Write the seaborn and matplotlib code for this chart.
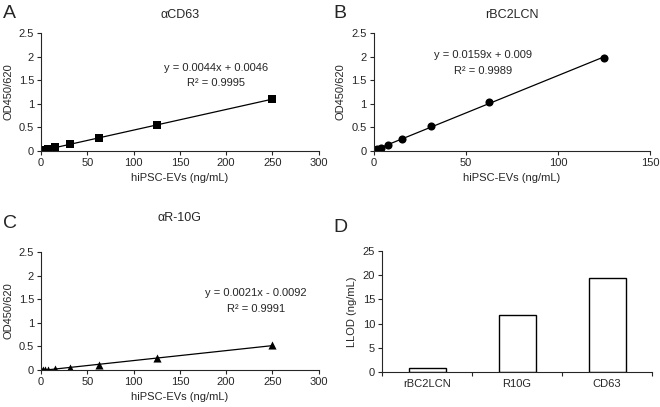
import numpy as np
import pandas as pd
import matplotlib
matplotlib.use("Agg")
import matplotlib.pyplot as plt
from matplotlib.ticker import FuncFormatter, FixedLocator
import seaborn as sns

# standard curves (hiPSC-EVs ng/mL vs OD450/620)
cd63_x = [0, 1.95, 3.9, 7.8, 15.6, 31.25, 62.5, 125, 250]
cd63_y = [0.0, 0.01, 0.02, 0.04, 0.08, 0.15, 0.27, 0.55, 1.10]

bc2_x = [0, 0.49, 0.98, 1.95, 3.9, 7.8, 15.6, 31.25, 62.5, 125]
bc2_y = [0.0, 0.01, 0.02, 0.04, 0.07, 0.13, 0.26, 0.53, 1.04, 1.97]

r10g_x = [0, 1.95, 3.9, 7.8, 15.6, 31.25, 62.5, 125, 250]
r10g_y = [0.0, 0.0, 0.0, 0.0, 0.01, 0.05, 0.11, 0.25, 0.52]

# lower limit of detection
llod_names = ["rBC2LCN", "R10G", "CD63"]
llod_vals = [0.9, 11.7, 19.4]

sns.set_style("ticks")
plt.rcParams['font.family'] = ['Liberation Sans', 'DejaVu Sans']
plt.rcParams['font.size'] = 8

fig = plt.figure(figsize=(6.6, 4.07), dpi=100)

fmt = FuncFormatter(lambda v, p: '{:g}'.format(v))

def curve(rect, x, y, marker, title, xmax, xstep, eq, r2, txt_x, eq_y, r2_y, title_pad, msize):
	'''Scatter + linear trendline panel'''
	ax = fig.add_axes(rect)
	df = pd.DataFrame({'x': x, 'y': y})
	sns.regplot(data=df, x='x', y='y', ci=None, marker=marker, color='black',
		scatter_kws={'s': msize, 'alpha': 1, 'linewidths': 0}, line_kws={'lw': 0.9}, ax=ax)
	ax.set_xlim(0, xmax)
	ax.set_ylim(0, 2.5)
	ax.set_xticks(np.arange(0, xmax + 1, xstep))
	ax.set_yticks(np.arange(0, 2.51, 0.5))
	ax.yaxis.set_major_formatter(fmt)
	ax.set_xlabel('hiPSC-EVs (ng/mL)', fontsize=8, labelpad=4)
	ax.set_ylabel('OD450/620', fontsize=8, labelpad=4)
	ax.set_title(title, fontsize=9, pad=title_pad)
	ax.text(txt_x, eq_y, eq, ha='center', va='center', fontsize=8)
	ax.text(txt_x, r2_y, r2, ha='center', va='center', fontsize=8)
	ax.tick_params(length=3, width=0.8, labelsize=8, pad=2)
	for s in ['left', 'bottom']:
		ax.spines[s].set_linewidth(0.8)
	sns.despine(ax=ax)
	return ax

curve([0.062, 0.629, 0.421, 0.290], cd63_x, cd63_y, 's', 'αCD63', 300, 50,
	'y = 0.0044x + 0.0046', 'R² = 0.9995', 189, 1.75, 1.43, 11, 30)
curve([0.566, 0.629, 0.419, 0.290], bc2_x, bc2_y, 'o', 'rBC2LCN', 150, 50,
	'y = 0.0159x + 0.009', 'R² = 0.9989', 59.5, 2.03, 1.69, 11, 34)
curve([0.062, 0.091, 0.421, 0.290], r10g_x, r10g_y, '^', 'αR-10G', 300, 50,
	'y = 0.0021x - 0.0092', 'R² = 0.9991', 232, 1.63, 1.29, 22, 34)

# LLOD bar chart
axd = fig.add_axes([0.579, 0.086, 0.409, 0.297])
sns.barplot(x=llod_names, y=llod_vals, color='white', edgecolor='black',
	linewidth=1, width=0.41, ax=axd)
axd.set_xlim(-0.5, 2.5)
axd.set_ylim(0, 25)
axd.set_yticks(np.arange(0, 26, 5))
axd.set_ylabel('LLOD (ng/mL)', fontsize=8, labelpad=4)
axd.set_xlabel('')
axd.xaxis.set_minor_locator(FixedLocator([-0.5, 0.5, 1.5, 2.5]))
axd.tick_params(axis='x', which='major', length=0, labelsize=8, pad=5)
axd.tick_params(axis='x', which='minor', length=3, width=0.8)
axd.tick_params(axis='y', length=3, width=0.8, labelsize=8, pad=2)
for s in ['left', 'bottom']:
	axd.spines[s].set_linewidth(0.8)
sns.despine(ax=axd)

# panel letters
for lbl, px, py in [('A', 3, 13), ('B', 333, 13), ('C', 3, 224), ('D', 333, 227)]:
	fig.text(px / 660, 1 - py / 407, lbl, fontsize=14, ha='left', va='center')

fig.savefig('out.png', dpi=100)
